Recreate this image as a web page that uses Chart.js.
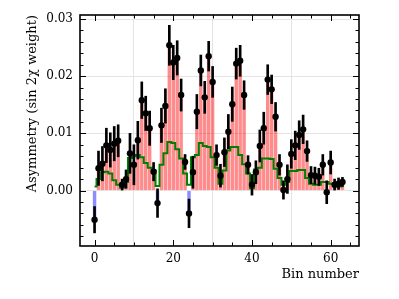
<!DOCTYPE html>
<html>
<head>
<meta charset="utf-8">
<script src="https://cdn.jsdelivr.net/npm/chart.js@4"></script>
<style>
  body { margin: 0; background: #fff; }
</style>
</head>
<body>
<canvas id="chart" width="399" height="299"></canvas>
<script>

// one entry per bin, 0..63
const asym = [
  -0.0051, 0.0039, 0.0047, 0.0079, 0.0071, 0.0082, 0.0087, 0.0010,
   0.0020, 0.0065, 0.0045, 0.0088, 0.0158, 0.0135, 0.0109, 0.0033,
  -0.0022, 0.0114, 0.0148, 0.0254, 0.0224, 0.0232, 0.0167, 0.0050,
  -0.0040, 0.0032, 0.0138, 0.0210, 0.0163, 0.0235, 0.0190, 0.0062,
   0.0026, 0.0067, 0.0103, 0.0151, 0.0222, 0.0227, 0.0167, 0.0045,
   0.0010, 0.0032, 0.0078, 0.0109, 0.0194, 0.0177, 0.0129, 0.0045,
   0.0001, 0.0020, 0.0064, 0.0079, 0.0097, 0.0107, 0.0069, 0.0027,
   0.0026, 0.0024, 0.0045, -0.0003, 0.0049, 0.0010, 0.0012, 0.0015
];
const asymErr = [
  0.0023, 0.0030, 0.0030, 0.0030, 0.0030, 0.0030, 0.0028, 0.0010,
  0.0016, 0.0035, 0.0035, 0.0033, 0.0032, 0.0030, 0.0030, 0.0016,
  0.0025, 0.0030, 0.0030, 0.0035, 0.0030, 0.0030, 0.0028, 0.0013,
  0.0025, 0.0028, 0.0030, 0.0027, 0.0028, 0.0026, 0.0027, 0.0018,
  0.0020, 0.0025, 0.0030, 0.0030, 0.0027, 0.0027, 0.0025, 0.0016,
  0.0018, 0.0020, 0.0028, 0.0028, 0.0026, 0.0025, 0.0025, 0.0018,
  0.0016, 0.0025, 0.0025, 0.0025, 0.0025, 0.0025, 0.0018, 0.0015,
  0.0015, 0.0015, 0.0018, 0.0020, 0.0020, 0.0010, 0.0010, 0.0008
];
const model = [
  0.0007, 0.0020, 0.0032, 0.0033, 0.0030, 0.0018, 0.0010, 0.0005,
  0.0015, 0.0057, 0.0060, 0.0062, 0.0058, 0.0048, 0.0040, 0.0035,
  0.0008, 0.0045, 0.0065, 0.0085, 0.0083, 0.0072, 0.0056, 0.0030,
  0.0010, 0.0058, 0.0062, 0.0083, 0.0078, 0.0076, 0.0058, 0.0040,
  0.0012, 0.0035, 0.0070, 0.0076, 0.0076, 0.0062, 0.0046, 0.0030,
  0.0004, 0.0037, 0.0040, 0.0056, 0.0056, 0.0055, 0.0038, 0.0022,
  0.0010, 0.0015, 0.0034, 0.0034, 0.0036, 0.0036, 0.0022, 0.0012,
  0.0010, 0.0010, 0.0015, 0.0015, 0.0012, 0.0012, 0.0007, 0.0007
];
const bins = asym.map((v, i) => i);

const xTicks = [0, 20, 40, 60];
const yTicks = [0, 0.01, 0.02, 0.03];

const tickFont = { family: 'DejaVu Serif', size: 12 };
const titleFont = { family: 'DejaVu Serif', size: 13 };

// box round the plot with inward ticks on all four sides (matplotlib style)
const frameTicks = {
  id: 'frameTicks',
  afterDatasetsDraw(chart) {
    const { ctx, chartArea: a, scales: { x, y } } = chart;
    ctx.save();
    ctx.strokeStyle = '#000';
    ctx.lineWidth = 1;
    ctx.beginPath();
    for (let k = 0; k <= 13; k++) {
      const v = k * 5;
      if (v > x.max) break;
      const px = Math.round(x.getPixelForValue(v)) + 0.5;
      const len = v % 20 === 0 ? 6 : 3.5;
      ctx.moveTo(px, a.bottom); ctx.lineTo(px, a.bottom - len);
      ctx.moveTo(px, a.top); ctx.lineTo(px, a.top + len);
    }
    for (let k = -4; k <= 15; k++) {
      const py = Math.round(y.getPixelForValue(k * 0.002)) + 0.5;
      const len = k % 5 === 0 ? 6 : 3.5;
      ctx.moveTo(a.left, py); ctx.lineTo(a.left + len, py);
      ctx.moveTo(a.right, py); ctx.lineTo(a.right - len, py);
    }
    ctx.stroke();
    ctx.lineWidth = 1.6;
    ctx.strokeRect(a.left, a.top, a.right - a.left, a.bottom - a.top);
    ctx.restore();
  }
};

new Chart(document.getElementById('chart'), {
  type: 'bar',
  data: {
    datasets: [
      {
        type: 'bar',
        data: bins.map(i => ({ x: i, y: asym[i] })),
        backgroundColor: ctx => (ctx.raw && ctx.raw.y < 0) ? 'rgba(0,0,255,0.45)' : 'rgba(255,0,0,0.45)',
        borderWidth: 0,
        barPercentage: 0.88,
        categoryPercentage: 1,
        grouped: false,
        order: 4
      },
      {
        type: 'line',
        data: bins.map(i => ({ x: i, y: model[i] })),
        borderColor: '#008000',
        borderWidth: 2,
        stepped: 'middle',
        pointRadius: 0,
        fill: false,
        order: 3
      },
      {
        type: 'bar',
        data: bins.map(i => ({ x: i, y: [asym[i] - asymErr[i], asym[i] + asymErr[i]] })),
        backgroundColor: '#000',
        borderWidth: 0,
        barThickness: 2,
        grouped: false,
        order: 2
      },
      {
        type: 'line',
        data: bins.map(i => ({ x: i, y: asym[i] })),
        showLine: false,
        pointRadius: 3.2,
        pointBackgroundColor: '#000',
        pointBorderWidth: 0,
        order: 1
      }
    ]
  },
  options: {
    responsive: false,
    animation: false,
    layout: { padding: { left: 0, top: 15, right: 40, bottom: 0 } },
    plugins: {
      legend: { display: false },
      tooltip: { enabled: false }
    },
    scales: {
      x: {
        type: 'linear',
        min: -3.7,
        max: 67.2,
        offset: false,
        afterBuildTicks: s => { s.ticks = xTicks.map(v => ({ value: v })); },
        afterFit: s => { s.height = 53; },
        grid: { color: '#e4e4e4', drawTicks: false },
        border: { display: false },
        ticks: { font: tickFont, color: '#000', padding: 6, maxRotation: 0 },
        title: { display: true, text: 'Bin number', align: 'end', font: titleFont, color: '#000', padding: { bottom: 17 } }
      },
      y: {
        type: 'linear',
        min: -0.0097,
        max: 0.0307,
        afterBuildTicks: s => { s.ticks = yTicks.map(v => ({ value: v })); },
        afterFit: s => { s.width = 80; },
        grid: { color: '#e4e4e4', drawTicks: false },
        border: { display: false },
        ticks: { font: tickFont, color: '#000', padding: 7, callback: v => v.toFixed(2) },
        title: { display: true, text: 'Asymmetry (sin 2χ weight)', align: 'end', font: titleFont, color: '#000', padding: { top: 25 } }
      }
    }
  },
  plugins: [frameTicks]
});
</script>
</body>
</html>
